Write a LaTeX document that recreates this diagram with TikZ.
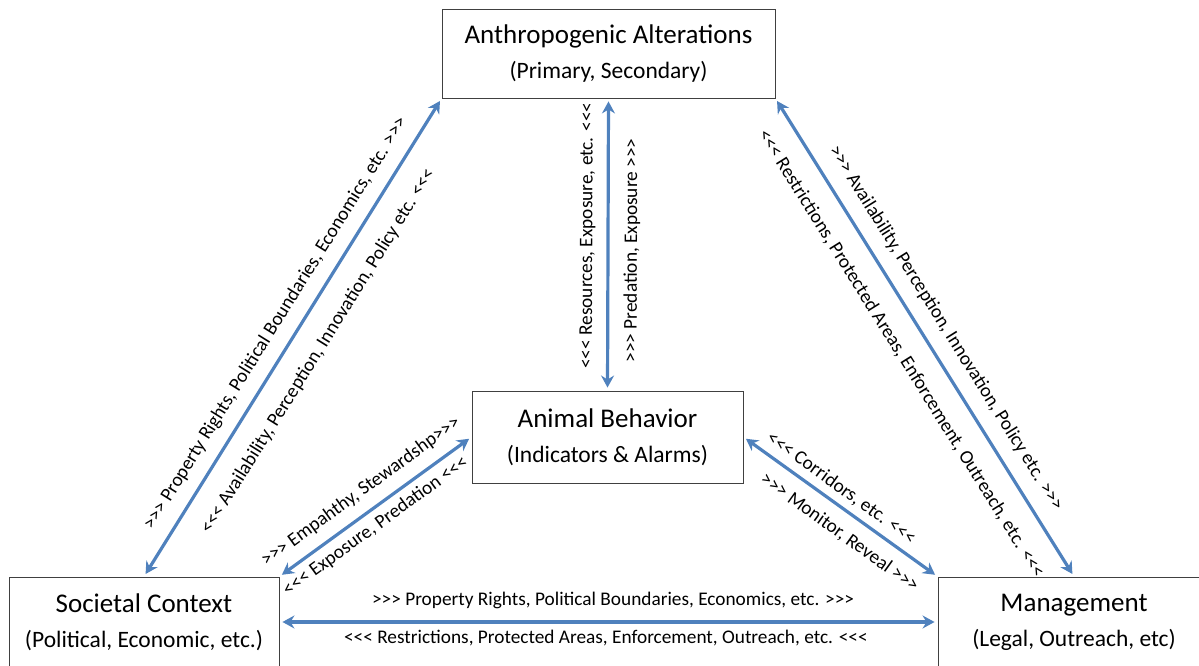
\documentclass[tikz,border=0pt]{standalone}
\usepackage{fontspec}
\setmainfont{Carlito}
\usepackage{tikz}
\usetikzlibrary{arrows.meta,positioning}

\definecolor{linkblue}{HTML}{4F81BD}
\newcommand\fwd{>{}>{}>}
\newcommand\bwd{<{}<{}<}
\newcommand\titlefont{\fontsize{27}{30}\selectfont}
\newcommand\subfont{\fontsize{23.5}{28}\selectfont}

\begin{document}
\begin{tikzpicture}[
  x=1pt, y=1pt,
  box/.style={draw=black!75, line width=0.9pt, fill=white, align=center, font=\titlefont, inner sep=0pt},
  link/.style={draw=linkblue, line width=3.2pt, {Stealth[length=12pt,width=13pt,inset=4pt]}-{Stealth[length=12pt,width=13pt,inset=4pt]}, shorten <=3pt, shorten >=3pt},
  lbl/.style={sloped, font=\fontsize{19.3}{22}\selectfont, inner sep=0pt}
]
\useasboundingbox (0,0) rectangle (1199,666);
% boxes
\node[box, minimum width=333pt, minimum height=89pt] (anthro) at (608.5,612.5) {Anthropogenic Alterations\\[5pt]{\subfont (Primary, Secondary)}};
\node[box, minimum width=271pt, minimum height=92pt] (animal) at (607.5,229) {Animal Behavior\\[5pt]{\subfont (Indicators \& Alarms)}};
\node[box, minimum width=270pt, minimum height=90pt] (society) at (144,44) {Societal Context\\[5pt]{\subfont (Political, Economic, etc.)}};
\node[box, minimum width=272pt, minimum height=90pt] (manage) at (1074,44) {Management\\[5pt]{\subfont (Legal, Outreach, etc)}};
% links
\draw[link] (animal.north) -- node[lbl, pos=0.53, above=11pt] {\bwd{} Resources, Exposure, etc. \bwd}
  node[lbl, pos=0.48, below=14pt] {\fwd{} Predation, Exposure \fwd} (anthro.south);
\draw[link] (society.north) -- node[lbl, pos=0.505, above=12pt] {\fwd{} Property Rights, Political Boundaries, Economics, etc. \fwd}
  node[lbl, pos=0.503, below=19pt] {\bwd{} Availability, Perception, Innovation, Policy etc. \bwd} (anthro.south west);
\draw[link] (anthro.south east) -- node[lbl, pos=0.506, above=13pt] {\fwd{} Availability, Perception, Innovation, Policy etc. \fwd}
  node[lbl, pos=0.502, below=19pt] {\bwd{} Restrictions, Protected Areas, Enforcement, Outreach, etc. \bwd} (manage.north);
\draw[link] (society.north east) -- node[lbl, pos=0.488, above=11pt] {\fwd{} Empahthy, Stewardshp\fwd}
  node[lbl, pos=0.452, below=6pt] {\bwd{} Exposure, Predation \bwd} (animal.west);
\draw[link] (animal.east) -- node[lbl, pos=0.457, above=6pt] {\bwd{} Corridors, etc. \bwd}
  node[lbl, pos=0.56, below=12pt] {\fwd{} Monitor, Reveal \fwd} (manage.north west);
\draw[link] (society.east) -- node[lbl, pos=0.507, above=12pt] {\fwd{} Property Rights, Political Boundaries, Economics, etc. \fwd}
  node[lbl, pos=0.496, below=7pt] {\bwd{} Restrictions, Protected Areas, Enforcement, Outreach, etc. \bwd} (manage.west);
\end{tikzpicture}
\end{document}
